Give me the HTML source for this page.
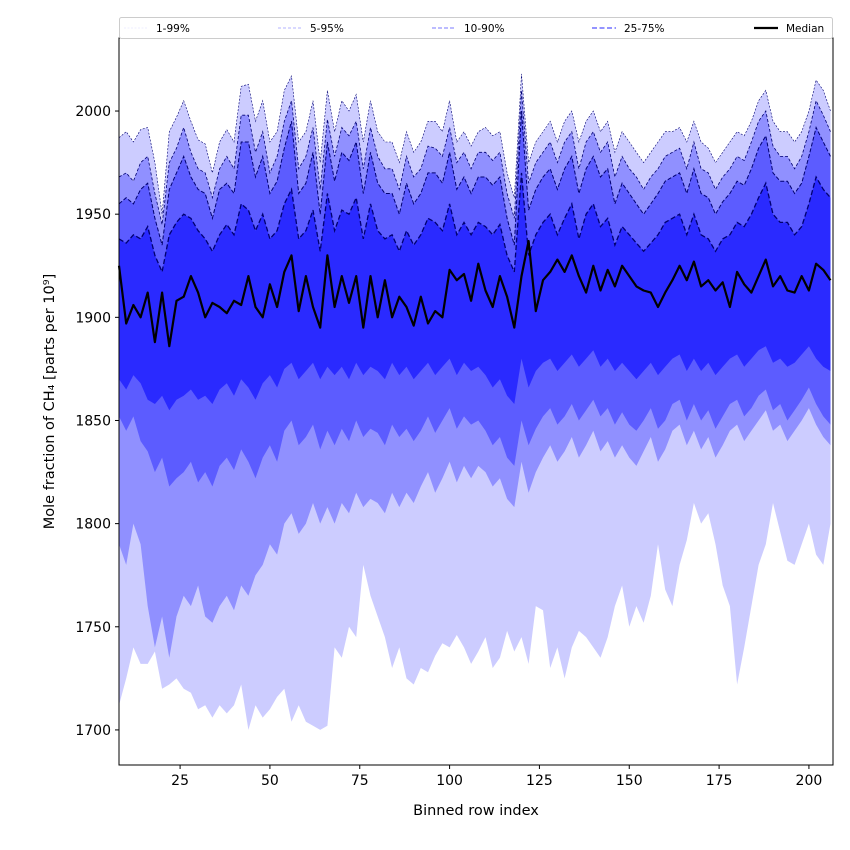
<!DOCTYPE html>
<html><head><meta charset="utf-8"><style>
body{margin:0;background:#fff;}
svg{display:block;font-family:"DejaVu Sans","Liberation Sans",sans-serif;}
</style></head><body>
<svg id="chart" width="850" height="850"></svg>
<script>
const xStart = 8, xStep = 2;
const p99 = [1987,1990,1985,1991,1992,1975,1950,1990,1997,2005,1995,1986,1984,1970,1985,1991,1985,2012,2013,1995,2005,1985,1990,2010,2017,1985,1990,2005,1975,2010,1990,2005,2000,2008,1985,2005,1990,1985,1985,1975,1990,1980,1985,1995,1995,1990,2005,1985,1990,1983,1990,1992,1988,1990,1970,1958,2018,1975,1985,1990,1995,1985,1995,2000,1985,1995,2000,1990,1995,1980,1990,1985,1980,1975,1980,1985,1990,1990,1992,1985,1995,1985,1982,1975,1980,1985,1990,1988,1995,2005,2010,1995,1990,1990,1985,1990,2000,2015,2010,2000];
const p95 = [1968,1970,1966,1975,1978,1960,1945,1975,1982,1992,1980,1972,1970,1958,1972,1978,1972,1998,1998,1980,1990,1970,1978,1995,2005,1972,1978,1992,1962,1996,1978,1992,1988,1995,1972,1992,1978,1972,1972,1962,1978,1968,1972,1983,1982,1978,1992,1975,1980,1972,1980,1980,1976,1980,1960,1948,2010,1965,1975,1980,1985,1975,1985,1990,1972,1985,1990,1980,1985,1968,1978,1972,1968,1962,1968,1972,1978,1980,1982,1972,1985,1972,1970,1962,1968,1972,1978,1976,1985,1995,2000,1983,1978,1978,1972,1978,1990,2005,1998,1990];
const p90 = [1955,1958,1955,1962,1965,1948,1935,1962,1970,1978,1968,1962,1960,1948,1962,1965,1960,1985,1985,1968,1978,1960,1966,1982,1995,1960,1965,1980,1950,1985,1966,1980,1976,1985,1960,1980,1965,1960,1960,1950,1965,1955,1960,1970,1970,1965,1980,1962,1968,1960,1968,1968,1964,1968,1948,1935,2000,1952,1962,1968,1972,1962,1972,1978,1960,1972,1978,1968,1972,1955,1965,1960,1955,1950,1955,1960,1966,1968,1970,1960,1972,1960,1958,1950,1956,1960,1966,1964,1972,1982,1988,1970,1966,1966,1960,1965,1978,1992,1985,1978];
const p75 = [1938,1936,1940,1938,1944,1930,1922,1940,1946,1950,1948,1942,1938,1932,1940,1945,1940,1955,1952,1942,1950,1938,1942,1955,1962,1938,1942,1952,1932,1960,1942,1952,1950,1958,1938,1955,1942,1938,1940,1932,1942,1935,1940,1948,1946,1942,1955,1940,1946,1940,1946,1944,1940,1945,1930,1922,1970,1930,1940,1946,1950,1940,1948,1955,1938,1950,1955,1944,1948,1935,1944,1940,1936,1932,1936,1940,1946,1948,1950,1940,1950,1940,1938,1932,1938,1940,1946,1944,1950,1958,1965,1950,1946,1946,1940,1944,1955,1968,1962,1958];
const median = [1925,1897,1906,1900,1912,1888,1912,1886,1908,1910,1920,1912,1900,1907,1905,1902,1908,1906,1920,1905,1900,1916,1905,1922,1930,1903,1920,1905,1895,1930,1905,1920,1907,1920,1895,1920,1900,1918,1900,1910,1905,1896,1910,1897,1903,1900,1923,1918,1921,1908,1926,1913,1905,1920,1910,1895,1920,1937,1903,1918,1922,1928,1922,1930,1920,1912,1925,1913,1923,1915,1925,1920,1915,1913,1912,1905,1912,1918,1925,1918,1927,1915,1918,1913,1917,1905,1922,1916,1912,1920,1928,1915,1920,1913,1912,1920,1913,1926,1923,1918];
const p25 = [1870,1865,1872,1868,1860,1858,1862,1855,1860,1862,1865,1860,1862,1858,1865,1868,1862,1870,1866,1860,1868,1872,1866,1875,1878,1870,1874,1878,1870,1876,1872,1876,1870,1878,1872,1876,1874,1870,1878,1872,1876,1870,1874,1878,1872,1876,1880,1872,1878,1874,1876,1872,1866,1870,1862,1858,1880,1866,1874,1878,1880,1874,1878,1882,1876,1880,1884,1876,1880,1874,1878,1874,1870,1874,1878,1872,1876,1880,1882,1874,1880,1874,1878,1872,1876,1880,1882,1876,1880,1884,1886,1878,1880,1876,1878,1882,1886,1880,1876,1874];
const p10 = [1852,1845,1852,1840,1835,1825,1832,1818,1822,1825,1830,1820,1825,1818,1828,1832,1826,1836,1830,1822,1832,1838,1830,1845,1850,1838,1842,1848,1836,1845,1838,1846,1840,1850,1842,1846,1844,1838,1848,1842,1846,1840,1845,1852,1844,1850,1856,1846,1852,1848,1850,1845,1838,1842,1832,1828,1850,1838,1846,1852,1856,1848,1852,1858,1850,1855,1860,1852,1856,1848,1854,1848,1845,1850,1856,1846,1850,1858,1860,1850,1858,1850,1855,1846,1852,1858,1860,1852,1856,1862,1865,1855,1858,1850,1855,1860,1866,1858,1852,1848];
const p5 = [1790,1780,1800,1790,1760,1740,1755,1735,1755,1765,1760,1770,1755,1752,1760,1765,1758,1770,1765,1775,1780,1790,1785,1800,1805,1795,1800,1810,1800,1808,1800,1810,1805,1815,1808,1812,1810,1805,1815,1808,1815,1810,1818,1825,1815,1822,1830,1820,1828,1822,1828,1825,1818,1822,1812,1808,1830,1815,1825,1832,1838,1830,1835,1842,1832,1838,1845,1835,1840,1832,1838,1832,1828,1835,1842,1830,1836,1845,1848,1838,1845,1836,1842,1832,1838,1845,1848,1840,1845,1850,1855,1845,1848,1840,1845,1850,1856,1848,1842,1838];
const p1 = [1712,1725,1740,1732,1732,1738,1720,1722,1725,1720,1718,1710,1712,1706,1712,1708,1712,1722,1700,1712,1706,1710,1716,1720,1704,1712,1704,1702,1700,1702,1740,1735,1750,1745,1780,1765,1755,1745,1730,1740,1725,1722,1730,1728,1736,1742,1740,1746,1740,1732,1738,1745,1730,1735,1748,1738,1745,1732,1760,1758,1730,1740,1725,1740,1748,1745,1740,1735,1745,1760,1770,1750,1760,1752,1765,1790,1768,1760,1780,1792,1810,1800,1805,1790,1770,1760,1722,1740,1760,1780,1790,1810,1796,1782,1780,1790,1800,1785,1780,1800];
const xTicks = [25,50,75,100,125,150,175,200];
const yTicks = [1700,1750,1800,1850,1900,1950,2000];

const NS = "http://www.w3.org/2000/svg";
const svg = document.getElementById('chart');
const L=119, R=833, T=38, B=765;
const xMin=8, xMax=206.7, yMin=1683, yMax=2035.4;
const xs = v => L + (v-xMin)/(xMax-xMin)*(R-L);
const ys = v => B - (v-yMin)/(yMax-yMin)*(B-T);
function mk(tag, attrs){const e=document.createElementNS(NS,tag);for(const k in attrs)e.setAttribute(k,attrs[k]);svg.appendChild(e);return e;}
const xi = i => xStart + i*xStep;
function linePts(arr){return arr.map((v,i)=>xs(xi(i)).toFixed(1)+','+ys(v).toFixed(1)).join(' ');}
function bandPts(lo,hi){return linePts(hi)+' '+lo.map((v,i)=>[xs(xi(i)).toFixed(1),ys(v).toFixed(1)]).reverse().map(p=>p.join(',')).join(' ');}

const clip = mk('clipPath',{id:'pc'});
const cr = document.createElementNS(NS,'rect');
cr.setAttribute('x',L);cr.setAttribute('y',T);cr.setAttribute('width',R-L);cr.setAttribute('height',B-T);
clip.appendChild(cr);

const bands = [[p1,p99,'#ccccff','band-1-99'],[p5,p95,'#9090ff','band-5-95'],[p10,p90,'#5c5cff','band-10-90'],[p25,p75,'#2a2aff','band-25-75']];
bands.forEach(b=>{
  const e = mk('polygon',{points:bandPts(b[0],b[1]),fill:b[2],'clip-path':'url(#pc)'});
  
  
});
const uppers = [[p99,0.6,'2,1.5','p99-line'],[p95,0.8,'3,2','p95-line'],[p90,1,'4,2','p90-line'],[p75,1.3,'5,2.5','p75-line']];
uppers.forEach(u=>{
  const e = mk('polyline',{points:linePts(u[0]),fill:'none',stroke:'#000070','stroke-width':u[1],'stroke-dasharray':u[2],'clip-path':'url(#pc)'});
  
  
});
const med = mk('polyline',{points:linePts(median),fill:'none',stroke:'#000','stroke-width':2.2,'stroke-linejoin':'round'});



const frame = mk('rect',{x:L,y:T,width:R-L,height:B-T,fill:'none',stroke:'#000','stroke-width':1});



xTicks.forEach(t=>{
  const x=xs(t);
  const tk = mk('line',{x1:x,x2:x,y1:B,y2:B+4,stroke:'#000'});
  
  
  const tx = mk('text',{x:x,y:B+20,'text-anchor':'middle','font-size':14,fill:'#000'});
  tx.textContent = t;
  
  
});
yTicks.forEach(t=>{
  const y=ys(t);
  const tk = mk('line',{x1:L-4,x2:L,y1:y,y2:y,stroke:'#000'});
  
  
  const tx = mk('text',{x:L-8,y:y+5,'text-anchor':'end','font-size':14,fill:'#000'});
  tx.textContent = t;
  
  
});
const xl = mk('text',{x:(L+R)/2,y:815,'text-anchor':'middle','font-size':14.5,fill:'#000'});
xl.textContent='Binned row index';


const yl = mk('text',{x:0,y:0,'text-anchor':'middle','font-size':14.5,fill:'#000',transform:'translate(54,'+((T+B)/2)+') rotate(-90)'});
yl.textContent='Mole fraction of CH\u2084 [parts per 10\u2079]';



const lg = mk('rect',{x:119.5,y:17.5,width:713,height:21,fill:'#fff',stroke:'#ccc','stroke-width':1,rx:2});


const legendItems = [['1-99%',124,'#ddddff',0.6,'2,1.5'],['5-95%',278,'#9a9aff',0.8,'3,2'],['10-90%',432,'#7a7aff',1,'4,2'],['25-75%',592,'#5555ff',1.3,'5,2.5'],['Median',754,'#000',2.2,'none']];
legendItems.forEach(it=>{
  const ln = mk('line',{x1:it[1],x2:it[1]+24,y1:28,y2:28,stroke:it[2],'stroke-width':it[3],'stroke-dasharray':it[4]});
  
  
  const tx = mk('text',{x:it[1]+32,y:32,'font-size':10.5,fill:'#000'});
  tx.textContent = it[0];
  
  
});
</script>
</body></html>
